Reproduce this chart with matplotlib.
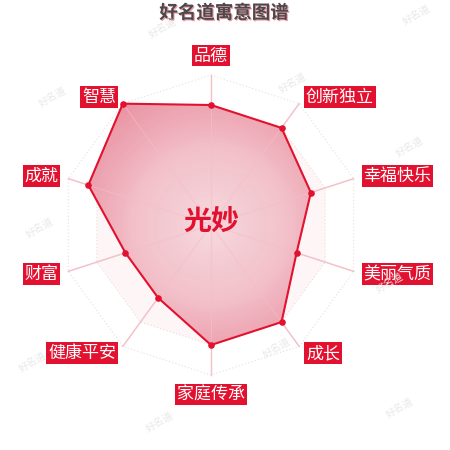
import numpy as np
import matplotlib.pyplot as plt
import matplotlib.patheffects as pe
from matplotlib.patches import Polygon
from matplotlib.colors import LinearSegmentedColormap

plt.rcParams['font.family'] = ['Noto Sans CJK SC', 'DejaVu Sans']

title = '好名道寓意图谱'
name = '光妙'
dims = ['品德', '创新独立', '幸福快乐', '美丽气质', '成长',
        '家庭传承', '健康平安', '财富', '成就', '智慧']
scores = [80, 80, 70, 60, 80, 80, 60, 60, 86, 100]
max_score = 100
watermark = '好名道'
wm_spots = [(163, 28), (417, 15), (53, 97), (293, 83), (410, 147), (40, 228),
            (390, 283), (33, 362), (160, 422), (277, 348), (400, 408)]

RED = '#e2112f'
PX = 0.72  # px -> pt at dpi 100

fig = plt.figure(figsize=(4.5, 4.5), dpi=100)
ax = fig.add_axes([0, 0, 1, 1])
ax.set_xlim(-211 / 150, 239 / 150)
ax.set_ylim(-1.5, 1.5)
ax.set_aspect('equal')
ax.axis('off')

n = len(dims)
ang = np.deg2rad(90 - 360 / n * np.arange(n))
cx, cy = np.cos(ang), np.sin(ang)

# split areas + rings
for k, lev in enumerate([1.0, 0.8, 0.6, 0.4, 0.2]):
    fc = '#ffffff' if k % 2 == 0 else '#fdf5f6'
    ax.add_patch(Polygon(np.c_[cx * lev, cy * lev], closed=True, fc=fc,
                         ec='#ecdcdf', lw=0.8, ls=(0, (1, 2)), zorder=1))

# axis lines
for x, y in zip(cx, cy):
    ax.plot([0, x], [0, y], color='#f2c0ca', lw=1, zorder=2)

# value polygon with radial gradient fill
r = np.array(scores) / max_score
pts = np.c_[cx * r, cy * r]
poly = Polygon(pts, closed=True, fc='none', ec=RED, lw=1.5, zorder=5)
ax.add_patch(poly)
g = np.linspace(-1, 1, 300)
X, Y = np.meshgrid(g, g)
R = np.sqrt(X ** 2 + Y ** 2)
cmap = LinearSegmentedColormap.from_list('rg', ['#f7d6dc', '#f2bcc6', '#e8899a'])
im = ax.imshow(R, extent=(-1, 1, -1, 1), origin='lower', cmap=cmap,
               vmin=0, vmax=1, alpha=0.92, zorder=3)
clip = Polygon(pts, closed=True, transform=ax.transData)
im.set_clip_path(clip)
for x, y in zip(cx, cy):
    ax.plot([0, x], [0, y], color='#f4c4cd', lw=0.8, alpha=0.6, zorder=4)
ax.scatter(pts[:, 0], pts[:, 1], s=14, color=RED, zorder=6)

# labels
rl = 1.055
pad = 2 / 150
for lab, x, y in zip(dims, cx, cy):
    lx, ly = x * rl, y * rl
    if abs(x) < 0.01:
        ha = 'center'
        va = 'bottom' if y > 0 else 'top'
        ly += pad if y > 0 else -pad
    else:
        ha = 'left' if x > 0 else 'right'
        va = 'center'
        lx += pad if x > 0 else -pad
    ax.text(lx, ly, lab, ha=ha, va=va, color='white', fontsize=17 * PX,
            bbox=dict(boxstyle='square,pad=0.1', fc=RED, ec='none'), zorder=8)

ax.text(0, 0.02, name, ha='center', va='center', color=RED,
        fontsize=28 * PX, fontweight='bold', zorder=9)

fig.text(224 / 450, 1 - 13 / 450, title, ha='center', va='center',
         color='#4a4a4a', fontsize=18.5 * PX, fontweight='bold',
         path_effects=[pe.SimplePatchShadow(offset=(0.8, -0.8), shadow_rgbFace='#f29aab', alpha=1),
                       pe.Normal()])

for px, py in wm_spots:
    fig.text(px / 450, 1 - py / 450, watermark, ha='center', va='center',
             color='#e8e8e8', fontsize=10 * PX, rotation=30, zorder=10)

fig.savefig('out.png', dpi=100)
